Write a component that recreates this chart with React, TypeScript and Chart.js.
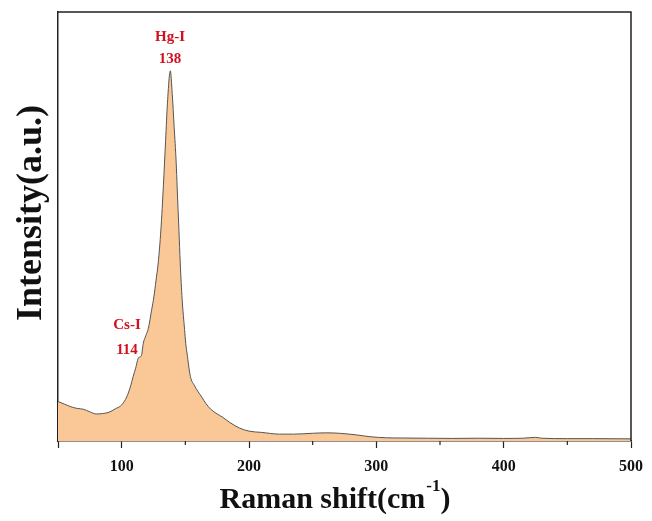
import React, { useEffect, useRef } from 'react';
import { Chart, registerables } from 'chart.js';

Chart.register(...registerables);

// Raman shift (cm-1)
const ramanShift = [
  50, 55, 60, 65, 70, 75, 80, 85, 90, 95, 100, 104, 107, 109, 111, 113.2, 115.5, 117, 119, 121,
  123.5, 125.3, 127, 128.7, 130.8, 132.8, 134.5, 136, 138.2, 139.7, 141.2, 142.8, 143.6, 145,
  146, 147.5, 149.4, 150.3, 151.3, 154, 157, 160, 163, 166, 170, 175, 179, 185, 192.7,
  200, 210, 224, 235, 250, 260, 271, 285, 295, 308, 320, 340, 360, 380, 400, 415, 425, 430,
  450, 470, 500,
];
// Intensity (a.u.)
const intensity = [
  9.2, 8.6, 8.0, 7.6, 7.4, 6.8, 6.3, 6.4, 6.7, 7.5, 8.4, 10.3, 12.8, 15.0, 17.0, 19.4, 19.9, 22.8, 24.6, 26.3,
  30.5, 33.6, 37.5, 41.5, 49.2, 59.7, 70.0, 79.0, 86.3, 81.0, 73.3, 65.0, 59.0, 49.0,
  41.5, 33.0, 26.0, 22.8, 20.5, 15.0, 13.0, 11.5, 10.2, 8.8, 7.4, 6.3, 5.6, 4.3, 3.0,
  2.3, 2.0, 1.6, 1.6, 1.8, 1.9, 1.8, 1.4, 1.0, 0.75, 0.7, 0.65, 0.6, 0.65, 0.6, 0.65, 0.85, 0.65,
  0.55, 0.55, 0.5,
];

const xMin = 50;
const xMax = 500;
const labeledTicks = [100, 200, 300, 400, 500];
const minorTicks = [150, 250, 350, 450];

const peakNames = ['Hg-I', 'Cs-I'];
const peakValues = ['138', '114'];
const peakLabelX = [138, 104.2];
const peakNameY = [94.2, 27.0];
const peakValueY = [89.1, 21.2];

const xTitleMain = 'Raman shift(cm';
const xTitleSup = '-1';
const xTitleEnd = ')';
const yTitle = 'Intensity(a.u.)';

const SERIF = "'Liberation Serif', 'Times New Roman', serif";
const AXIS_COLOR = '#222222';
const TEXT_COLOR = '#111111';
const LABEL_RED = '#D0101C';

const decorPlugin = {
  id: 'decor',
  afterDraw(chart: any) {
    const { ctx, chartArea, scales } = chart;
    const xs = scales.x;
    const ys = scales.y;
    ctx.save();
    // frame top/right
    ctx.strokeStyle = AXIS_COLOR;
    ctx.lineWidth = 1.5;
    ctx.beginPath();
    ctx.moveTo(chartArea.left, chartArea.top);
    ctx.lineTo(chartArea.right, chartArea.top);
    ctx.lineTo(chartArea.right, chartArea.bottom);
    ctx.stroke();
    // minor ticks
    ctx.lineWidth = 1.2;
    minorTicks.forEach((v) => {
      const px = xs.getPixelForValue(v);
      ctx.beginPath();
      ctx.moveTo(px, chartArea.bottom);
      ctx.lineTo(px, chartArea.bottom + 4);
      ctx.stroke();
    });
    // peak labels
    ctx.fillStyle = LABEL_RED;
    ctx.font = `bold 15px ${SERIF}`;
    ctx.textAlign = 'center';
    ctx.textBaseline = 'middle';
    peakNames.forEach((name, i) => {
      const px = xs.getPixelForValue(peakLabelX[i]);
      ctx.fillText(name, px, ys.getPixelForValue(peakNameY[i]));
      ctx.fillText(peakValues[i], px, ys.getPixelForValue(peakValueY[i]));
    });

    // x axis title with superscript
    ctx.fillStyle = TEXT_COLOR;
    ctx.textAlign = 'left';
    ctx.textBaseline = 'alphabetic';
    const mainFont = `bold 30px ${SERIF}`;
    const supFont = `bold 17px ${SERIF}`;
    ctx.font = mainFont;
    const w1 = ctx.measureText(xTitleMain).width;
    const w3 = ctx.measureText(xTitleEnd).width;
    ctx.font = supFont;
    const w2 = ctx.measureText(xTitleSup).width;
    const total = w1 + w2 + 1 + w3;
    const cx = 335;
    const baseY = 508;
    let x0 = cx - total / 2;
    ctx.font = mainFont;
    ctx.fillText(xTitleMain, x0, baseY);
    x0 += w1;
    ctx.font = supFont;
    ctx.fillText(xTitleSup, x0 + 1, baseY - 17);
    x0 += w2 + 1;
    ctx.font = mainFont;
    ctx.fillText(xTitleEnd, x0, baseY);

    // y axis title
    ctx.translate(41, 213);
    ctx.rotate(-Math.PI / 2);
    ctx.font = `bold 36px ${SERIF}`;
    ctx.textAlign = 'center';
    ctx.textBaseline = 'alphabetic';
    ctx.fillText(yTitle, 0, 0);
    ctx.restore();
  },
};

export default function App() {
  const canvasRef = useRef<HTMLCanvasElement | null>(null);

  useEffect(() => {
    const canvas = canvasRef.current;
    if (!canvas) return;
    const points = ramanShift.map((x, i) => ({ x, y: intensity[i] }));
    const chart = new Chart(canvas, {
      type: 'line',
      data: {
        datasets: [
          {
            data: points,
            fill: 'origin',
            backgroundColor: '#FAC796',
            borderColor: '#555555',
            borderWidth: 1,
            pointRadius: 0,
            cubicInterpolationMode: 'monotone',
          },
        ],
      },
      options: {
        responsive: false,
        animation: false,
        layout: { padding: { top: 12, right: 20, left: 0, bottom: 0 } },
        plugins: { legend: { display: false }, tooltip: { enabled: false } },
        scales: {
          x: {
            type: 'linear',
            min: xMin,
            max: xMax,
            afterFit: (s: any) => {
              s.height = 80;
            },
            border: { display: true, color: AXIS_COLOR, width: 1.5 },
            grid: {
              display: true,
              drawOnChartArea: false,
              drawTicks: true,
              tickLength: 7,
              tickWidth: 1.2,
              tickColor: (c: any) =>
                c.tick && (labeledTicks.includes(c.tick.value) || c.tick.value === xMin)
                  ? AXIS_COLOR
                  : 'rgba(0,0,0,0)',
            },
            ticks: {
              stepSize: 50,
              autoSkip: false,
              maxRotation: 0,
              padding: 9,
              color: TEXT_COLOR,
              font: { family: SERIF, size: 16, weight: 'bold' },
              callback: (v: any) => (labeledTicks.includes(Number(v)) ? String(v) : ''),
            },
            title: { display: false },
          },
          y: {
            min: 0,
            max: 100,
            afterFit: (s: any) => {
              s.width = 58;
            },
            border: { display: true, color: AXIS_COLOR, width: 1.5 },
            grid: { display: false },
            ticks: { display: false },
            title: { display: false },
          },
        },
      },
      plugins: [decorPlugin],
    });
    return () => chart.destroy();
  }, []);

  return (
    <div style={{ position: 'fixed', left: 0, top: 0, width: 652, height: 521, background: '#fff' }}>
      <canvas ref={canvasRef} width={652} height={521} />
    </div>
  );
}
